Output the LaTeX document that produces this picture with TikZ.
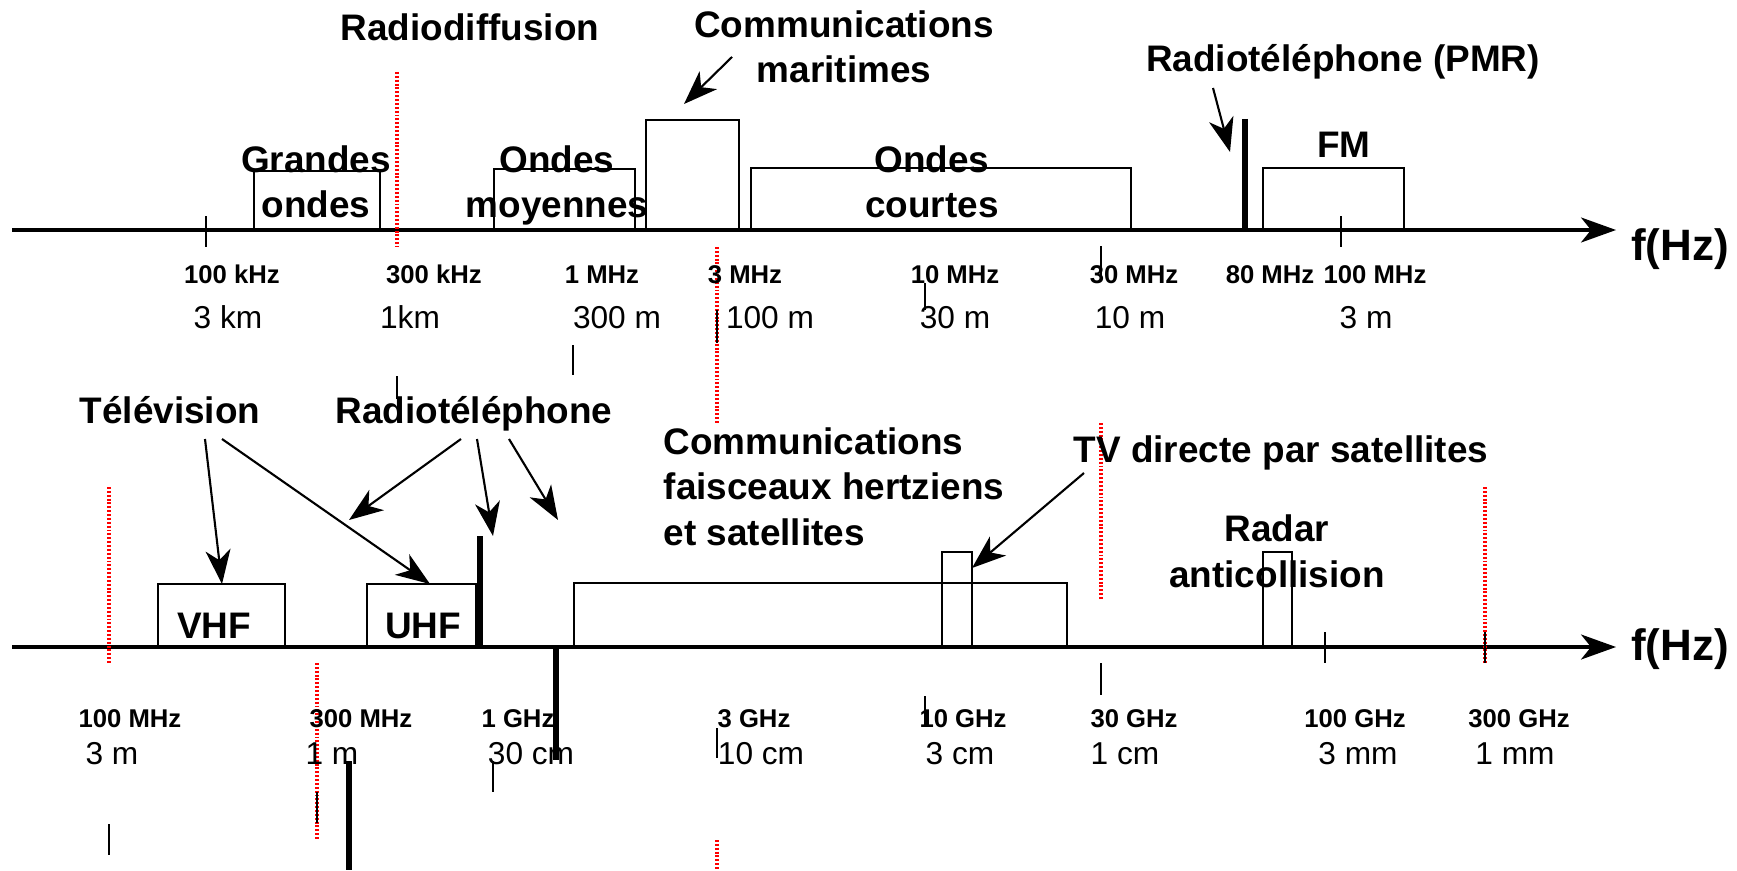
\documentclass[tikz,border=0pt]{standalone}
\usepackage{fontspec}
\setmainfont{Liberation Sans}
\usetikzlibrary{arrows.meta,fit}
\begin{document}
\begin{tikzpicture}[x=0.01cm,y=-0.01cm,
  band/.style={draw, line width=0.75pt, inner sep=0pt},
  axis/.style={line width=0.9pt, -{Stealth[length=0.35cm,width=0.25cm,inset=0.1cm]}},
  ptr/.style={line width=0.6pt, -{Stealth[length=0.34cm,width=0.25cm,inset=0.1cm]}},
  redline/.style={red, line width=1.1pt, dash pattern=on 0.55pt off 0.55pt},
  tickline/.style={line width=0.45pt},
  heavyline/.style={line width=1.5pt},
  big/.style={font=\bfseries\fontsize{10.5}{12.8}\selectfont, inner sep=0pt, anchor=base, align=center},
  freq/.style={font=\bfseries\fontsize{7.3}{8}\selectfont, inner sep=0pt, anchor=base},
  wave/.style={font=\fontsize{9}{10}\selectfont, inner sep=0pt, anchor=base},
  fhz/.style={font=\bfseries\fontsize{12.5}{14}\selectfont, inner sep=0pt, anchor=base},
]
\useasboundingbox (0,0) rectangle (1737,870);

% ---------- top axis ----------
\coordinate (a1s) at (12,230);
\coordinate (a1e) at (1616,230);
\draw[axis] (a1s) -- (a1e);

% bands (top)
\node[band, fit={(254,171) (380,230)}] (go) {};
\node[band, fit={(494,169) (635,230)}] (om) {};
\node[band, fit={(646,120) (739,230)}] (cm) {};
\node[band, fit={(751,168) (1131,230)}] (oc) {};
\node[band, fit={(1263,168) (1404,230)}] (fm) {};

% PMR heavy line
\coordinate (pmrT) at (1245,119);
\coordinate (pmrB) at (1245,230);
\draw[heavyline] (pmrT) -- (pmrB);

% red dotted (top)
\coordinate (r1a) at (397,72);  \coordinate (r1b) at (397,247);
\coordinate (r2a) at (717,247); \coordinate (r2b) at (717,423);
\draw[redline] (r1a) -- (r1b);
\draw[redline] (r2a) -- (r2b);

% ticks (top)
\foreach \x/\ya/\yb [count=\i] in {206/216/247, 397/376/399, 573/345/375, 717/310/343, 925/283/310, 1101/246/277, 1341/216/247}{
  \coordinate (tt\i a) at (\x,\ya);
  \coordinate (tt\i b) at (\x,\yb);
  \draw[tickline] (tt\i a) -- (tt\i b);
}

% labels (top)  (multi-line nodes: base = last line's baseline)
\node[big] (radiodiff) at (470,41) {Radiodiffusion};
\node[big] (commar) at (844,83) {Communications\\maritimes};
\node[big] (grandes) at (316,218) {Grandes\\ondes};
\node[big] (moyennes) at (557,218) {Ondes\\moyennes};
\node[big] (courtes) at (932,218) {Ondes\\courtes};
\node[big] (fmlab) at (1344,158) {FM};
\node[big] (pmrlab) at (1343,72) {Radiotéléphone (PMR)};
\node[fhz] (fhz1) at (1680,260) {f(Hz)};

% arrows (top)
\coordinate (cmT) at (732,57);  \coordinate (cmH) at (684,104);
\draw[ptr] (cmT) -- (cmH);
\coordinate (pmT) at (1213,88); \coordinate (pmH) at (1230,152);
\draw[ptr] (pmT) -- (pmH);

% frequency labels (top)
\node[freq] (f100k) at (232,283) {100 kHz};
\node[freq] (f300k) at (434,283) {300 kHz};
\node[freq] (f1M) at (602,283) {1 MHz};
\node[freq] (f3M) at (745,283) {3 MHz};
\node[freq] (f10M) at (955,283) {10 MHz};
\node[freq] (f30M) at (1134,283) {30 MHz};
\node[freq] (f80M) at (1270,283) {80 MHz};
\node[freq] (f100M) at (1375,283) {100 MHz};

\node[wave] (w3km) at (228,328) {3 km};
\node[wave] (w1km) at (410,328) {1km};
\node[wave] (w300m) at (617,328) {300 m};
\node[wave] (w100m) at (770,328) {100 m};
\node[wave] (w30m) at (955,328) {30 m};
\node[wave] (w10m) at (1130,328) {10 m};
\node[wave] (w3m) at (1366,328) {3 m};

% ---------- bottom axis ----------
\coordinate (a2s) at (12,647);
\coordinate (a2e) at (1616,647);
\draw[axis] (a2s) -- (a2e);

\node[band, fit={(158,584) (285,647)}] (vhf) {};
\node[band, fit={(367,584) (476,647)}] (uhf) {};
\node[band, fit={(574,583) (1067,647)}] (fh) {};
\node[band, fit={(942,552) (972,647)}] (tvs) {};
\node[band, fit={(1263,552) (1292,647)}] (radar) {};

% heavy lines (bottom)
\foreach \x/\ya/\yb [count=\i] in {480/536/647, 556/647/760, 349/761/870}{
  \coordinate (hb\i a) at (\x,\ya);
  \coordinate (hb\i b) at (\x,\yb);
  \draw[heavyline] (hb\i a) -- (hb\i b);
}

% red dotted (bottom)
\foreach \x/\ya/\yb [count=\i] in {109/487/663, 1101/423/600, 1485/487/663, 317/663/840, 717/840/870}{
  \coordinate (rb\i a) at (\x,\ya);
  \coordinate (rb\i b) at (\x,\yb);
  \draw[redline] (rb\i a) -- (rb\i b);
}

% ticks (bottom)
\foreach \x/\ya/\yb [count=\i] in {1325/632/663, 1485/632/663, 1101/663/695, 925/696/727, 717/728/758, 493/761/792, 317/792/823, 109/824/855}{
  \coordinate (tb\i a) at (\x,\ya);
  \coordinate (tb\i b) at (\x,\yb);
  \draw[tickline] (tb\i a) -- (tb\i b);
}

% labels (bottom)
\node[big] (tele) at (170,423) {Télévision};
\node[big] (radiotel) at (474,423) {Radiotéléphone};
\node[big, anchor=base west, align=left] (comfh) at (663,545) {Communications\\faisceaux hertziens\\et satellites};
\node[big] (tvdir) at (1281,462) {TV directe par satellites};
\node[big] (radarlab) at (1277,587) {Radar\\anticollision};
\node[big] (vhflab) at (214,638) {VHF};
\node[big] (uhflab) at (423,638) {UHF};
\node[fhz] (fhz2) at (1680,660) {f(Hz)};

% arrows (bottom)
\coordinate (tvT1) at (205,439); \coordinate (tvH1) at (222,584);
\coordinate (tvT2) at (222,439); \coordinate (tvH2) at (430,584);
\coordinate (rtT1) at (461,439); \coordinate (rtH1) at (349,520);
\coordinate (rtT2) at (477,439); \coordinate (rtH2) at (493,536);
\coordinate (rtT3) at (509,439); \coordinate (rtH3) at (558,520);
\coordinate (tsT) at (1084,473); \coordinate (tsH) at (972,568);
\draw[ptr] (tvT1) -- (tvH1);
\draw[ptr] (tvT2) -- (tvH2);
\draw[ptr] (rtT1) -- (rtH1);
\draw[ptr] (rtT2) -- (rtH2);
\draw[ptr] (rtT3) -- (rtH3);
\draw[ptr] (tsT) -- (tsH);

% frequency labels (bottom)
\node[freq] (f100Mb) at (130,727) {100 MHz};
\node[freq] (f300Mb) at (361,727) {300 MHz};
\node[freq] (f1G) at (518,727) {1 GHz};
\node[freq] (f3G) at (754,727) {3 GHz};
\node[freq] (f10G) at (963,727) {10 GHz};
\node[freq] (f30G) at (1134,727) {30 GHz};
\node[freq] (f100G) at (1355,727) {100 GHz};
\node[freq] (f300G) at (1519,727) {300 GHz};

\node[wave] (w3mb) at (112,764) {3 m};
\node[wave] (w1mb) at (332,764) {1 m};
\node[wave] (w30cm) at (531,764) {30 cm};
\node[wave] (w10cm) at (761,764) {10 cm};
\node[wave] (w3cm) at (960,764) {3 cm};
\node[wave] (w1cm) at (1125,764) {1 cm};
\node[wave] (w3mm) at (1358,764) {3 mm};
\node[wave] (w1mm) at (1515,764) {1 mm};
\end{tikzpicture}
\end{document}
